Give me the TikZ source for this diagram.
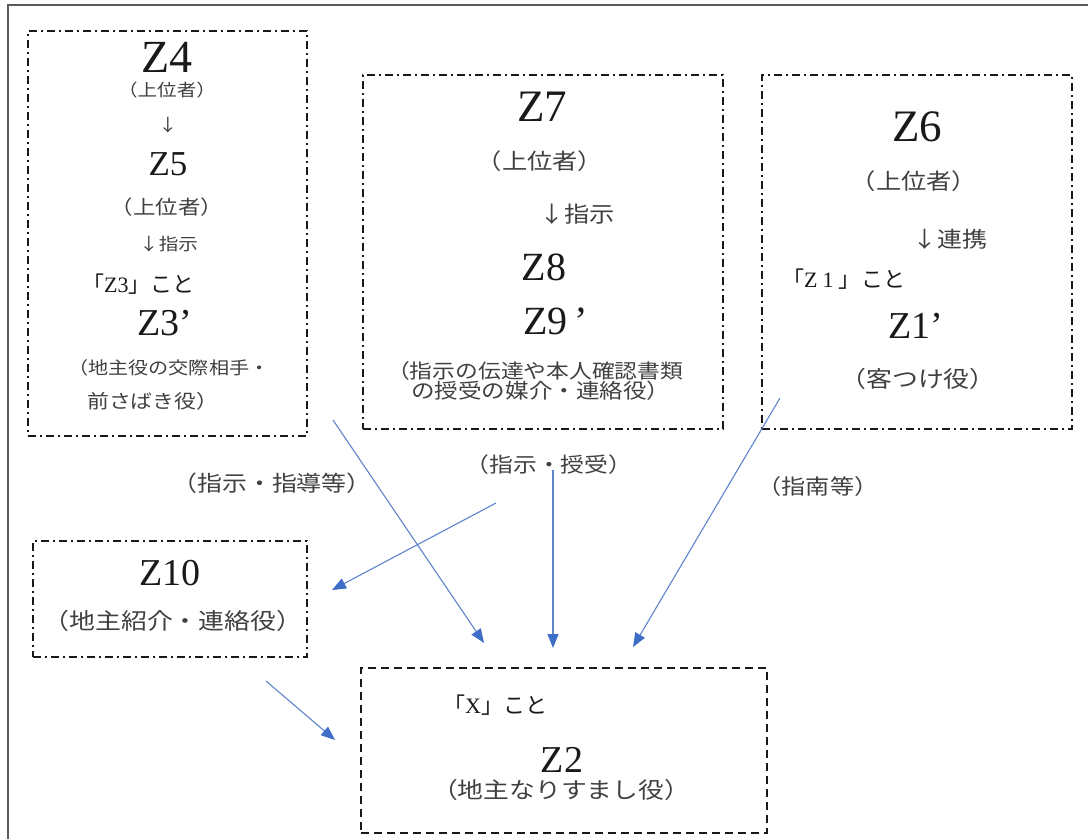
\documentclass[tikz,border=0pt]{standalone}
\usepackage{fontspec}
\setmainfont{Liberation Serif}
\newfontfamily\jpfont[FakeStretch=1.15]{Noto Sans CJK JP}
\newfontfamily\jpplain{Noto Sans CJK JP}
\usetikzlibrary{arrows.meta}
\definecolor{lineblue}{HTML}{5F84CC}
\definecolor{headblue}{HTML}{3F6EC8}
\definecolor{jgray}{HTML}{404040}
\definecolor{framegray}{HTML}{5A5A5A}
\newcommand{\fsz}[1]{\fontsize{#1}{#1}\selectfont}
\begin{document}
\begin{tikzpicture}[x=1pt,y=-1pt,
  ddbox/.style={draw=black!90, line width=2.1pt, dash pattern=on 8pt off 4pt on 2pt off 4pt, inner sep=0pt},
  dbox/.style={draw=black!90, line width=2.1pt, dash pattern=on 8pt off 5pt, inner sep=0pt},
  zlab/.style={inner sep=0pt, text=black!90, font=\fsz{#1}},
  jlab/.style={inner sep=0pt, text=jgray, font=\jpfont\fsz{#1}, text height=0.8em, text depth=0.2em},
  flow/.style={draw=lineblue, line width=1.1pt, -{Triangle[length=14pt,width=11pt,color=headblue]}},
]
\useasboundingbox (0,0) rectangle (1088,839);
\fill[white] (0,0) rectangle (1088,839);
\draw[framegray, line width=2.2pt] (8,839) -- (8,5) -- (1088,5);

% boxes
\node[ddbox, minimum width=279pt, minimum height=405pt] (boxA) at (167.5,233.5) {};
\node[ddbox, minimum width=360pt, minimum height=354pt] (boxB) at (543,252) {};
\node[ddbox, minimum width=310pt, minimum height=354pt] (boxC) at (917,252) {};
\node[ddbox, minimum width=274pt, minimum height=116pt] (boxD) at (170,599) {};
\node[dbox, minimum width=406pt, minimum height=165pt] (boxE) at (564,750.5) {};

% box A
\node[zlab=46] (z4) at (167,57) {Z4};
\node[jlab=17] (a1) at (167,93) {（上位者）};
\node[jlab=17] (a2) at (168,128) {↓};
\node[zlab=35] (z5) at (168,164) {Z5};
\node[jlab=19.5] (a3) at (167,211) {（上位者）};
\node[jlab=17, anchor=west] (a4) at (139,247) {↓指示};
\node[zlab=22, anchor=west] (a5) at (82,284) {{\jpplain 「}Z3{\jpplain 」こと}};
\node[zlab=38] (z3) at (165,323) {Z3’};
\node[jlab=17.5, anchor=west] (a6) at (68,371) {（地主役の交際相手・};
\node[jlab=19, anchor=west] (a7) at (87,405) {前さばき役）};

% box B
\node[zlab=45] (z7) at (542,107) {Z7};
\node[jlab=22] (b1) at (540,166) {（上位者）};
\node[jlab=22, anchor=west] (b2) at (539,219) {↓指示};
\node[zlab=40] (z8) at (544,267) {Z8};
\node[zlab=40, anchor=west] (z9) at (523,321) {Z9\hspace{7pt}’};
\node[jlab=19.8, anchor=west] (b3) at (387,375) {（指示の伝達や本人確認書類};
\node[jlab=20.5, anchor=west] (b4) at (411,395) {の授受の媒介・連絡役）};

% box C
\node[zlab=45] (z6) at (917,127) {Z6};
\node[jlab=22] (c1) at (914,186) {（上位者）};
\node[jlab=21.7, anchor=west] (c2) at (912,244) {↓連携};
\node[zlab=22, anchor=west] (c3) at (782,279) {{\jpplain 「}Z\hspace{5pt}1\hspace{5pt}{\jpplain 」\hspace{1pt}こと}};
\node[zlab=38] (z1) at (916,326) {Z1’};
\node[jlab=22.5] (c4) at (918,384) {（客つけ役）};

% box D
\node[zlab=38] (z10) at (170,573) {Z10};
\node[jlab=22.5] (d1) at (173,626) {（地主紹介・連絡役）};

% box E
\node[zlab=22, anchor=west] (e1) at (443,705) {{\jpplain 「}X{\jpplain 」こと}};
\node[zlab=38] (z2) at (562,760) {Z2};
\node[jlab=22.4] (e2) at (561,795) {（地主なりすまし役）};

% edge labels
\node[jlab=21.7] (l1) at (272,488) {（指示・指導等）};
\node[jlab=20.7] (l2) at (549,469) {（指示・授受）};
\node[jlab=21] (l3) at (818,491) {（指南等）};

% arrow endpoints
\coordinate (s1) at (333,420);
\coordinate (t1) at (484,643);
\coordinate (s2) at (496,503);
\coordinate (t2) at (332,590);
\coordinate (s3) at (553,470);
\coordinate (t3) at (553,648);
\coordinate (s4) at (780,398);
\coordinate (t4) at (633,647);
\coordinate (s5) at (266,681);
\coordinate (t5) at (335,740);

\draw[flow] (s1) -- (t1);
\draw[flow] (s2) -- (t2);
\draw[flow] (s3) -- (t3);
\draw[flow] (s4) -- (t4);
\draw[flow] (s5) -- (t5);
\end{tikzpicture}
\end{document}
